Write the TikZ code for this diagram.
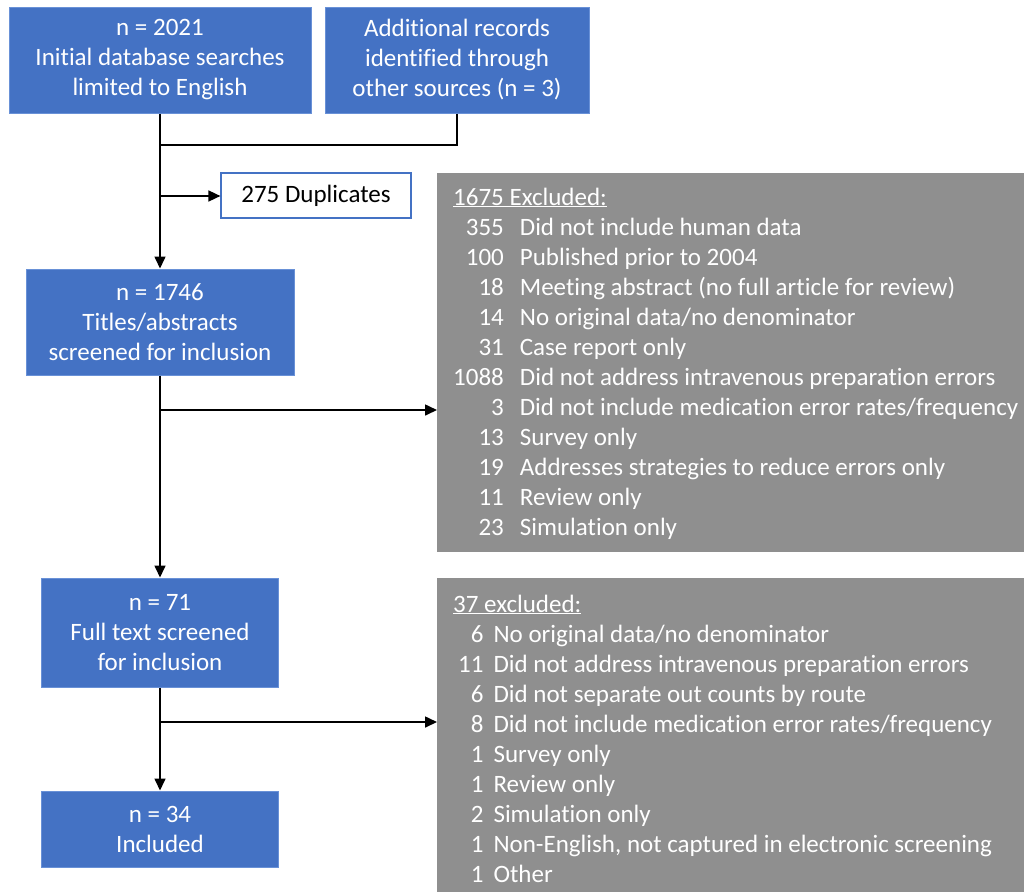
\documentclass[tikz,border=0pt]{standalone}
\usepackage{fontspec}
\setmainfont{Carlito}[Ligatures=NoCommon]
\usetikzlibrary{arrows.meta}
\definecolor{boxblue}{RGB}{68,114,196}
\definecolor{boxedge}{RGB}{105,145,215}
\definecolor{exgray}{RGB}{143,143,143}
\begin{document}
\begin{tikzpicture}[x=1pt,y=-1pt,
  txt/.style={font=\fontsize{25}{30}\selectfont},
  bluebox/.style={txt, draw=boxedge, line width=1pt, fill=boxblue, text=white, align=center, inner sep=0pt},
  dupbox/.style={txt, draw=boxblue, line width=1.2pt, fill=white, text=black, inner sep=0pt},
  graybox/.style={fill=exgray, draw=none, inner sep=0pt, anchor=north west},
  graytext/.style={txt, text=white, inner sep=0pt, anchor=base west},
  conn/.style={line width=1.6pt, draw=black},
  arr/.style={conn, -{Triangle[length=12pt,width=11pt]}}]
\useasboundingbox (0,0) rectangle (1024,892);
% main boxes
\node[bluebox, minimum width=302pt, minimum height=106pt] (A) at (160,60) {n = 2021\\Initial database searches\\limited to English};
\node[bluebox, minimum width=264pt, minimum height=106pt] (B) at (457,60) {Additional records\\identified through\\other sources (n = 3)};
\node[dupbox, minimum width=190pt, minimum height=45pt] (dup) at (316,195.5) {275 Duplicates};
\node[bluebox, minimum width=268pt, minimum height=106pt] (C) at (160,322) {n = 1746\\Titles/abstracts\\screened for inclusion};
\node[bluebox, minimum width=237pt, minimum height=109pt] (D) at (160,632.5) {n = 71\\Full text screened\\for inclusion};
\node[bluebox, minimum width=237pt, minimum height=76pt] (E) at (160,829) {n = 34\\Included};
% gray exclusion boxes
\node[graybox, minimum width=587pt, minimum height=379pt] (G1) at (437,173) {};
\node[graybox, minimum width=587pt, minimum height=314pt] (G2) at (437,578) {};
\node[graytext] (T1) at (453,205) {\begin{tabular}[t]{@{}r@{\hspace{16pt}}l@{}}
\multicolumn{2}{@{}l}{\underline{1675 Excluded:}}\\
355 & Did not include human data\\
100 & Published prior to 2004\\
18 & Meeting abstract (no full article for review)\\
14 & No original data/no denominator\\
31 & Case report only\\
1088 & Did not address intravenous preparation errors\\
3 & Did not include medication error rates/frequency\\
13 & Survey only\\
19 & Addresses strategies to reduce errors only\\
11 & Review only\\
23 & Simulation only
\end{tabular}};
\node[graytext] (T2) at (453,612) {\begin{tabular}[t]{@{\hspace{5pt}}r@{\hspace{10pt}}l@{}}
\multicolumn{2}{@{}l}{\underline{37 excluded:}}\\
6 & No original data/no denominator\\
11 & Did not address intravenous preparation errors\\
6 & Did not separate out counts by route\\
8 & Did not include medication error rates/frequency\\
1 & Survey only\\
1 & Review only\\
2 & Simulation only\\
1 & Non-English, not captured in electronic screening\\
1 & Other
\end{tabular}};
% junctions
\coordinate (j1) at (160,145);
\coordinate (j2) at (160,196);
\coordinate (j3) at (160,410);
\coordinate (j4) at (160,722);
% connectors
\draw[arr] (A.south) -- (C.north);
\draw[conn] (B.south) |- (j1);
\draw[arr] (j2) -- (j2 -| dup.west);
\draw[arr] (C.south) -- (D.north);
\draw[arr] (j3) -- (j3 -| G1.west);
\draw[arr] (D.south) -- (E.north);
\draw[arr] (j4) -- (j4 -| G2.west);
\end{tikzpicture}
\end{document}
